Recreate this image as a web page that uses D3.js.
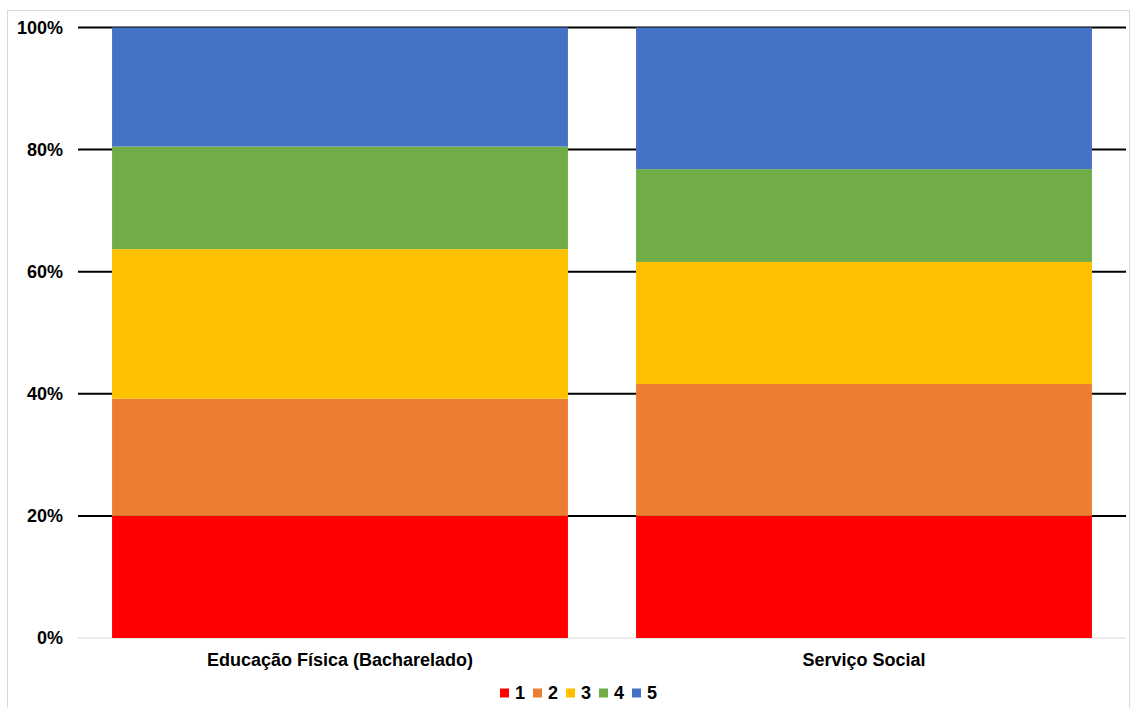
<!DOCTYPE html>
<html>
<head>
<meta charset="utf-8">
<script src="https://cdn.jsdelivr.net/npm/d3@7"></script>
<style>
  body { margin: 0; background: #fff; }
  text { font-family: "Liberation Sans", Arial, sans-serif; font-weight: bold; fill: #000; }
</style>
</head>
<body>
<div id="chart"></div>
<script>
  // categorias e series (percentuais)
  var categorias = ["Educação Física (Bacharelado)", "Serviço Social"];
  var series = ["1", "2", "3", "4", "5"];
  var valores1 = [20.0, 20.0];
  var valores2 = [19.2, 21.6];
  var valores3 = [24.5, 20.0];
  var valores4 = [16.8, 15.2];
  var valores5 = [19.5, 23.2];
  var cores = ["#ff0000", "#ed7d31", "#ffc000", "#70ad47", "#4472c4"];
  var ticksY = [0, 20, 40, 60, 80, 100];

  var W = 1131, H = 708;
  var margin = {top: 27.5, right: 5, bottom: 70, left: 78},
      width = 1126 - margin.left,
      height = 638 - margin.top;

  var svg = d3.select("#chart").append("svg")
      .attr("width", W).attr("height", H);

  // borda externa
  svg.append("rect")
    .attr("x", 7.5).attr("y", 10.5)
    .attr("width", 1122).attr("height", 720)
    .attr("fill", "none").attr("stroke", "#d9d9d9");

  var g = svg.append("g")
    .attr("transform", "translate(" + margin.left + "," + margin.top + ")");

  var tabela = categorias.map(function(c, i) {
    return {cat: c, "1": valores1[i], "2": valores2[i], "3": valores3[i], "4": valores4[i], "5": valores5[i]};
  });

  var x = d3.scaleBand().domain(categorias).range([0, width]).paddingInner(0.13).paddingOuter(0.065);
  var y = d3.scaleLinear().domain([0, 100]).range([height, 0]);

  // linhas de grade
  g.selectAll(".grid").data(ticksY).enter().append("line")
    .attr("x1", 0).attr("x2", width)
    .attr("y1", function(d) { return y(d); }).attr("y2", function(d) { return y(d); })
    .attr("stroke", function(d) { return d === 0 ? "#d9d9d9" : "#000"; })
    .attr("stroke-width", function(d) { return d === 0 ? 1 : 2; });

  // rotulos do eixo y
  g.selectAll(".ytick").data(ticksY).enter().append("text")
    .attr("x", -15).attr("y", function(d) { return y(d); })
    .attr("dy", "0.36em")
    .attr("text-anchor", "end")
    .style("font-size", "18px")
    .text(function(d) { return d + "%"; });

  // barras empilhadas
  var stack = d3.stack().keys(series)(tabela);
  g.selectAll(".serie").data(stack).enter().append("g")
    .attr("fill", function(d, i) { return cores[i]; })
    .selectAll("rect").data(function(d) { return d; }).enter().append("rect")
      .attr("x", function(d) { return x(d.data.cat); })
      .attr("width", x.bandwidth())
      .attr("y", function(d) { return y(d[1]); })
      .attr("height", function(d) { return y(d[0]) - y(d[1]); });

  // rotulos das categorias
  g.selectAll(".xlab").data(categorias).enter().append("text")
    .attr("x", function(d) { return x(d) + x.bandwidth() / 2; })
    .attr("y", height + 22)
    .attr("dy", "0.36em")
    .attr("text-anchor", "middle")
    .style("font-size", "18px")
    .text(function(d) { return d; });

  // legenda
  var leg = svg.append("g").attr("transform", "translate(500,693)");
  var item = leg.selectAll(".leg").data(series).enter().append("g")
    .attr("transform", function(d, i) { return "translate(" + (i * 33) + ",0)"; });
  item.append("rect")
    .attr("x", 0).attr("y", -4.5).attr("width", 9).attr("height", 9)
    .attr("fill", function(d, i) { return cores[i]; });
  item.append("text")
    .attr("x", 15).attr("y", 0).attr("dy", "0.36em")
    .style("font-size", "18px")
    .text(function(d) { return d; });
</script>
</body>
</html>
